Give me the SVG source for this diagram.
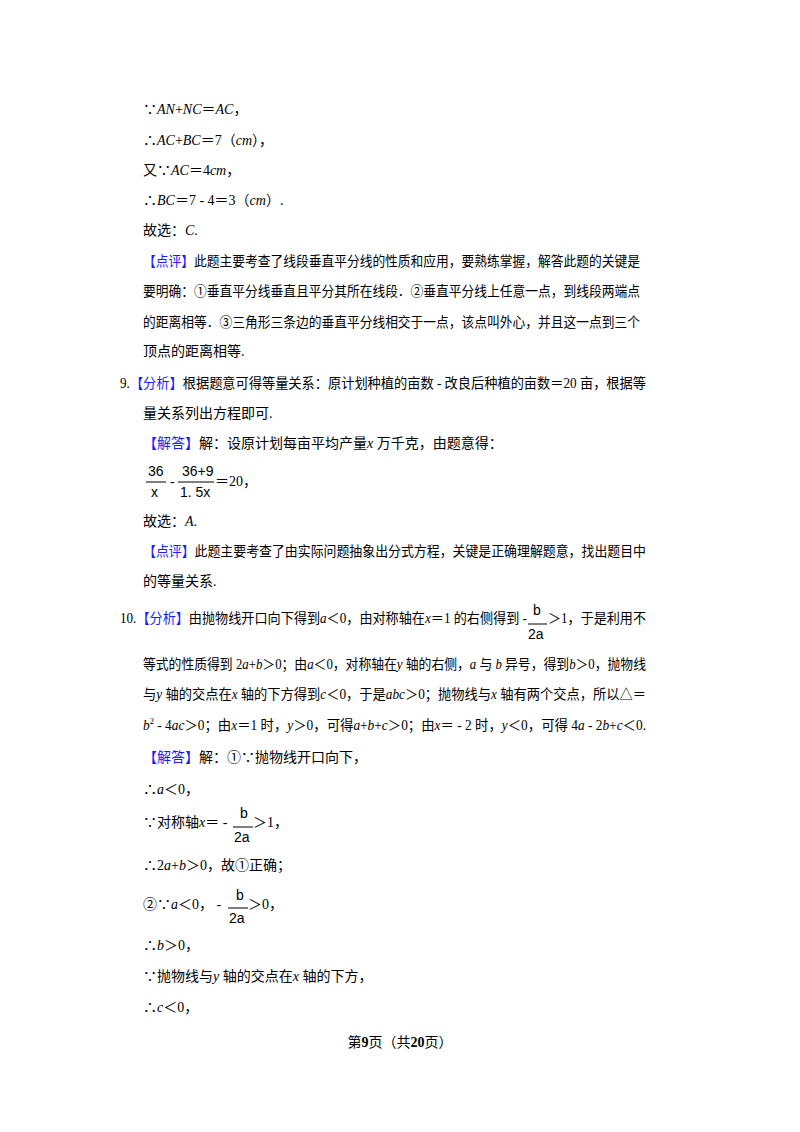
<svg xmlns="http://www.w3.org/2000/svg" width="800" height="1132" viewBox="0 0 800 1132">
<style>
text{font-family:"Liberation Serif","Noto Sans CJK SC",serif;font-size:14px;fill:#000}
.b{fill:#1a1aff}
.i{font-style:italic}
.f{font-family:"Liberation Sans","Noto Sans CJK SC",sans-serif;font-size:14px}
line{stroke:#000;stroke-width:1}
</style>
<rect width="800" height="1132" fill="#fff"/>
<text x="143" y="114">∵<tspan class="i">AN</tspan>+<tspan class="i">NC</tspan>＝<tspan class="i">AC</tspan>，</text>
<text x="143" y="145">∴<tspan class="i">AC</tspan>+<tspan class="i">BC</tspan>＝7（<tspan class="i">cm</tspan>），</text>
<text x="143" y="175">又∵<tspan class="i">AC</tspan>＝4<tspan class="i">cm</tspan>，</text>
<text x="143" y="205">∴<tspan class="i">BC</tspan>＝7 - 4＝3（<tspan class="i">cm</tspan>）.</text>
<text x="143" y="235">故选：<tspan class="i">C</tspan>.</text>
<text x="143" y="266" textLength="497" lengthAdjust="spacingAndGlyphs"><tspan class="b">【点评】</tspan>此题主要考查了线段垂直平分线的性质和应用，要熟练掌握，解答此题的关键是</text>
<text x="143" y="296" textLength="497" lengthAdjust="spacingAndGlyphs">要明确：①垂直平分线垂直且平分其所在线段．②垂直平分线上任意一点，到线段两端点</text>
<text x="143" y="327" textLength="497" lengthAdjust="spacingAndGlyphs">的距离相等．③三角形三条边的垂直平分线相交于一点，该点叫外心，并且这一点到三个</text>
<text x="143" y="356">顶点的距离相等.</text>
<text x="120" y="388" textLength="526" lengthAdjust="spacingAndGlyphs">9.<tspan class="b">【分析】</tspan>根据题意可得等量关系：原计划种植的亩数 - 改良后种植的亩数＝20 亩，根据等</text>
<text x="143" y="418">量关系列出方程即可.</text>
<text x="143" y="448"><tspan class="b">【解答】</tspan>解：设原计划每亩平均产量<tspan class="i">x</tspan> 万千克，由题意得：</text>
<g>
<text class="f" x="148" y="476">36</text><line x1="146" y1="482" x2="166" y2="482"/><text class="f" x="151" y="497">x</text>
<text x="170" y="486">-</text>
<text class="f" x="182" y="476">36+9</text><line x1="178" y1="482" x2="214" y2="482"/><text class="f" x="180" y="497">1. 5x</text>
<text x="215" y="486">＝20，</text>
</g>
<text x="143" y="526">故选：<tspan class="i">A</tspan>.</text>
<text x="143" y="556" textLength="503" lengthAdjust="spacingAndGlyphs"><tspan class="b">【点评】</tspan>此题主要考查了由实际问题抽象出分式方程，关键是正确理解题意，找出题目中</text>
<text x="143" y="586">的等量关系.</text>
<text x="120" y="623" textLength="407" lengthAdjust="spacingAndGlyphs">10.<tspan class="b">【分析】</tspan>由抛物线开口向下得到<tspan class="i">a</tspan>＜0，由对称轴在<tspan class="i">x</tspan>＝1 的右侧得到 -</text>
<text class="f" x="533" y="615">b</text><line x1="528" y1="624" x2="547" y2="624"/><text class="f" x="528" y="639">2a</text>
<text x="548" y="623" textLength="98" lengthAdjust="spacingAndGlyphs">＞1，于是利用不</text>
<text x="143" y="669" textLength="503" lengthAdjust="spacingAndGlyphs">等式的性质得到 2<tspan class="i">a</tspan>+<tspan class="i">b</tspan>＞0；由<tspan class="i">a</tspan>＜0，对称轴在<tspan class="i">y</tspan> 轴的右侧，<tspan class="i">a</tspan> 与 <tspan class="i">b</tspan> 异号，得到<tspan class="i">b</tspan>＞0，抛物线</text>
<text x="143" y="699" textLength="503" lengthAdjust="spacingAndGlyphs">与<tspan class="i">y</tspan> 轴的交点在<tspan class="i">x</tspan> 轴的下方得到<tspan class="i">c</tspan>＜0，于是<tspan class="i">abc</tspan>＞0；抛物线与<tspan class="i">x</tspan> 轴有两个交点，所以△＝</text>
<text x="143" y="730" textLength="503" lengthAdjust="spacingAndGlyphs"><tspan class="i">b</tspan><tspan font-size="9" dy="-6">2</tspan><tspan dy="6"> - 4</tspan><tspan class="i">ac</tspan>＞0；由<tspan class="i">x</tspan>＝1 时，<tspan class="i">y</tspan>＞0，可得<tspan class="i">a</tspan>+<tspan class="i">b</tspan>+<tspan class="i">c</tspan>＞0；由<tspan class="i">x</tspan>＝ - 2 时，<tspan class="i">y</tspan>＜0，可得 4<tspan class="i">a</tspan> - 2<tspan class="i">b</tspan>+<tspan class="i">c</tspan>＜0.</text>
<text x="143" y="762"><tspan class="b">【解答】</tspan>解：①∵抛物线开口向下，</text>
<text x="143" y="794">∴<tspan class="i">a</tspan>＜0，</text>
<text x="143" y="827">∵对称轴<tspan class="i">x</tspan>＝ -</text>
<text class="f" x="240" y="818">b</text><line x1="233" y1="827" x2="253" y2="827"/><text class="f" x="234" y="842">2a</text>
<text x="253" y="827">＞1，</text>
<text x="143" y="870">∴2<tspan class="i">a</tspan>+<tspan class="i">b</tspan>＞0，故①正确；</text>
<text x="143" y="909">②∵<tspan class="i">a</tspan>＜0， -</text>
<text class="f" x="236" y="900">b</text><line x1="228" y1="908" x2="248" y2="908"/><text class="f" x="229" y="923">2a</text>
<text x="248" y="909">＞0，</text>
<text x="143" y="950">∴<tspan class="i">b</tspan>＞0，</text>
<text x="143" y="981">∵抛物线与<tspan class="i">y</tspan> 轴的交点在<tspan class="i">x</tspan> 轴的下方，</text>
<text x="143" y="1012">∴<tspan class="i">c</tspan>＜0，</text>
<text x="400" y="1047" text-anchor="middle" font-size="13">第<tspan font-weight="bold">9</tspan>页（共<tspan font-weight="bold">20</tspan>页）</text>
</svg>
